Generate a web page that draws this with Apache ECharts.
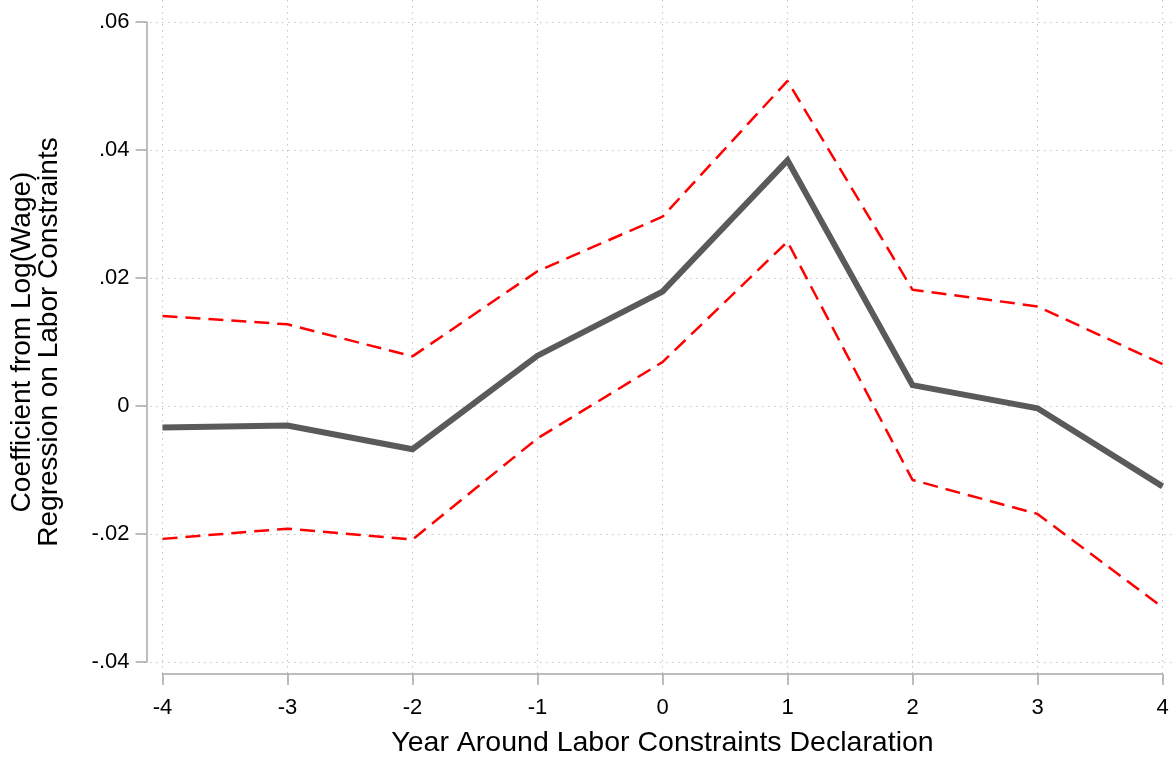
<!DOCTYPE html>
<html>
<head>
<meta charset="utf-8">
<script src="https://cdn.jsdelivr.net/npm/echarts@6/dist/echarts.min.js"></script>
<style>
  html, body { margin: 0; padding: 0; background: #fff; }
  #main { width: 1174px; height: 763px; }
</style>
</head>
<body>
<div id="main"></div>
<script>
// event time (years around the declaration)
const years = [-4, -3, -2, -1, 0, 1, 2, 3, 4];
// point estimates and 95% CI bounds
const coef = [-0.0033, -0.0030, -0.0067, 0.0079, 0.0179, 0.0384, 0.0033, -0.0003, -0.0125];
const upper = [0.0141, 0.0128, 0.0078, 0.0211, 0.0296, 0.0508, 0.0182, 0.0156, 0.0066];
const lower = [-0.0207, -0.0191, -0.0208, -0.0050, 0.0069, 0.0257, -0.0115, -0.0168, -0.0314];
const yTicks = [-0.04, -0.02, 0, 0.02, 0.04, 0.06];

const font = "'Liberation Sans', Arial, sans-serif";
const axisGrey = "#a8a8a8";
const gridGrey = "#c4c4c4";

function fmt(v) {
  if (Math.abs(v) < 1e-9) return "0";
  let s = v.toFixed(2);
  return s.replace("0.", ".");
}

function pairs(ys) {
  return years.map((x, i) => [x, ys[i]]);
}

let chartDom = document.getElementById("main");
let myChart = echarts.init(chartDom, null, { renderer: "canvas" });

let option = {
  animation: false,
  backgroundColor: "#fff",
  grid: [
    // plotting area incl. the dotted grid that overshoots the axis ranges
    { left: 144, right: 0, top: 0, bottom: 83 },
    // y axis line only
    { left: 144, right: 0, top: 22, bottom: 101 },
    // x axis line only
    { left: 162.5, right: 11.5, top: 0, bottom: 83 },
  ],
  xAxis: [
    {
      gridIndex: 0,
      type: "value",
      min: -4.148,
      max: 4.092,
      splitNumber: 8,
      axisLine: { show: false },
      axisTick: { show: false },
      axisLabel: { show: false },
      splitLine: {
        show: true,
        showMinLine: false,
        showMaxLine: false,
        lineStyle: { color: gridGrey, type: [1.5, 4.5], width: 1 },
      },
    },
    { gridIndex: 1, type: "value", show: false, min: 0, max: 1 },
    {
      gridIndex: 2,
      type: "value",
      min: -4,
      max: 4,
      interval: 1,
      position: "bottom",
      axisLine: { show: true, lineStyle: { color: axisGrey, width: 1.5 } },
      axisTick: { show: true, length: 11, lineStyle: { color: axisGrey, width: 1.5 } },
      axisLabel: { show: true, margin: 23, color: "#000", fontSize: 22, fontFamily: font },
      splitLine: { show: false },
      name: "Year Around Labor Constraints Declaration",
      nameLocation: "middle",
      nameGap: 55,
      nameTextStyle: { color: "#000", fontSize: 28.5, fontFamily: font },
    },
  ],
  yAxis: [
    {
      gridIndex: 0,
      type: "value",
      min: -0.042734,
      max: 0.063438,
      splitNumber: 5,
      axisLine: { show: false },
      axisTick: { show: false },
      axisLabel: { show: false },
      splitLine: {
        show: true,
        showMinLine: false,
        showMaxLine: false,
        lineStyle: { color: gridGrey, type: [1.5, 4.5], width: 1 },
      },
    },
    {
      gridIndex: 1,
      type: "value",
      min: yTicks[0],
      max: yTicks[yTicks.length - 1],
      interval: 0.02,
      position: "left",
      axisLine: { show: true, lineStyle: { color: axisGrey, width: 1.5 } },
      axisTick: { show: true, length: 11, lineStyle: { color: axisGrey, width: 1.5 } },
      axisLabel: {
        show: true,
        margin: 17,
        color: "#000",
        fontSize: 22,
        fontFamily: font,
        formatter: fmt,
      },
      splitLine: { show: false },
      name: "Coefficient from Log(Wage)\nRegression on Labor Constraints",
      nameLocation: "middle",
      nameGap: 84,
      nameTextStyle: { color: "#000", fontSize: 28, fontFamily: font, lineHeight: 27 },
    },
    { gridIndex: 2, type: "value", show: false, min: 0, max: 1 },
  ],
  series: [
    {
      name: "upper",
      type: "line",
      xAxisIndex: 0,
      yAxisIndex: 0,
      data: pairs(upper),
      showSymbol: false,
      lineStyle: { color: "#ff0000", width: 2.5, type: [15, 8] },
      z: 3,
    },
    {
      name: "lower",
      type: "line",
      xAxisIndex: 0,
      yAxisIndex: 0,
      data: pairs(lower),
      showSymbol: false,
      lineStyle: { color: "#ff0000", width: 2.5, type: [15, 8] },
      z: 3,
    },
    {
      name: "coef",
      type: "line",
      xAxisIndex: 0,
      yAxisIndex: 0,
      data: pairs(coef),
      showSymbol: false,
      lineStyle: { color: "#5a5a5a", width: 6, join: "miter" },
      z: 4,
    },
  ],
};

option && myChart.setOption(option);
</script>
</body>
</html>
